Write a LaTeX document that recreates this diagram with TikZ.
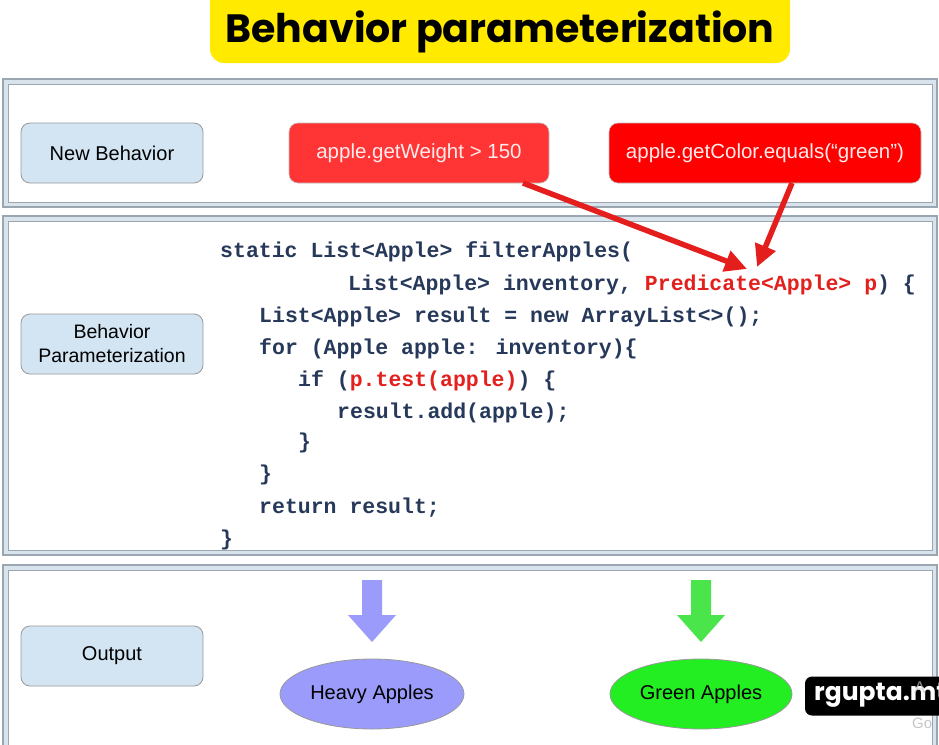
\documentclass[tikz,border=0pt]{standalone}
\usepackage{fontspec}
\setmainfont{Liberation Sans}
\newfontfamily\titlefont{Poppins}[UprightFont=* Bold]
\newfontfamily\codefont{Liberation Mono}[UprightFont=* Bold]
\newfontfamily\wmfont{Poppins}[UprightFont=* Bold]
\usetikzlibrary{shapes.geometric,arrows.meta}
\definecolor{titleyellow}{HTML}{FFEA00}
\definecolor{framegray}{HTML}{9AA6B2}
\definecolor{framefill}{HTML}{D9E3EC}
\definecolor{labelblue}{HTML}{D3E5F3}
\definecolor{redA}{HTML}{FF3535}
\definecolor{redB}{HTML}{FF0000}
\definecolor{codeblue}{HTML}{27395A}
\definecolor{codered}{HTML}{E3201E}
\definecolor{purp}{HTML}{9B9BFB}
\definecolor{grn}{HTML}{4AE54A}
\definecolor{grnE}{HTML}{22EE22}
\tikzset{
  x=1pt,y=-1pt,
  panelouter/.style={draw=framegray,line width=1.2pt,fill=framefill},
  panelinner/.style={draw=framegray,line width=0.8pt,fill=white},
  labelbox/.style={draw=gray!80,line width=0.8pt,fill=labelblue,rounded corners=9pt,
    minimum width=182pt,minimum height=60pt,align=center,font=\fontsize{20}{23}\selectfont,inner sep=0pt},
  redbox/.style={draw=gray!50,line width=0.6pt,rounded corners=9pt,minimum height=60pt,
    text=red!8,font=\fontsize{20.5}{24}\selectfont,inner sep=0pt},
  codeline/.style={anchor=base west,text=codeblue,font=\codefont\fontsize{21.5}{24}\selectfont,inner sep=0pt},
  redarrow/.style={draw=codered!95!red,line width=5.5pt,-{Triangle[length=22pt,width=21pt]}},
  outell/.style={ellipse,draw=gray!80,line width=0.8pt,minimum width=184pt,minimum height=70pt,
    inner sep=0pt,font=\fontsize{20}{23}\selectfont},
}
\begin{document}
\begin{tikzpicture}
\useasboundingbox (0,0) rectangle (939,744);
\begin{scope}
\clip (0,0) rectangle (939,744);
% title
\node[fill=titleyellow,rounded corners=14pt,minimum width=580pt,minimum height=76pt,inner sep=0pt] (titlebg) at (500,25) {};
\node[font=\titlefont\fontsize{39.5}{44}\selectfont] (title) at (500,32) {Behavior parameterization};
% panels
\draw[panelouter] (3,79) rectangle (937,207);
\draw[panelinner] (8,84) rectangle (932,202);
\draw[panelouter] (3,216) rectangle (937,555);
\draw[panelinner] (8,221) rectangle (932,550);
\draw[panelouter] (3,565) rectangle (937,760);
\draw[panelinner] (8,570) rectangle (932,760);
% labels
\node[labelbox] (newb) at (112,153) {New Behavior};
\node[labelbox,font=\fontsize{19.5}{24}\selectfont] (bparam) at (112,344) {Behavior\\Parameterization};
\node[labelbox] (output) at (112,656) {Output};
% red boxes
\node[redbox,fill=redA,minimum width=260pt] (weight) at (419,153) {apple.getWeight > 150};
\node[redbox,fill=redB,minimum width=312pt] (color) at (765,153) {apple.getColor.equals(“green”)};
% code
\node[codeline] (c1) at (220,257) {static List<Apple> filterApples(};
\node[codeline] (c2) at (348,290) {List<Apple> inventory, \textcolor{codered}{Predicate<Apple> p}) \{};
\node[codeline] (c3) at (259,322) {List<Apple> result = new ArrayList<>();};
\node[codeline] (c4) at (259,354) {for (Apple apple: inventory)\{};
\node[codeline] (c5) at (298,386) {if (\textcolor{codered}{p.test(apple)}) \{};
\node[codeline] (c6) at (337,418) {result.add(apple);};
\node[codeline] (c7) at (298,448) {\}};
\node[codeline] (c8) at (259,480) {\}};
\node[codeline] (c9) at (259,513) {return result;};
\node[codeline] (c10) at (220,545) {\}};
% arrows to Predicate
\coordinate (t1) at (747,269);
\coordinate (t2) at (757,267);
\coordinate (s1) at (523,183);
\coordinate (s2) at (792,183);
\draw[redarrow] (s1) -- (t1);
\draw[redarrow] (s2) -- (t2);
% block arrows
\fill[purp] (362,580) -- (382,580) -- (382,615) -- (396,615) -- (372,642) -- (348,615) -- (362,615) -- cycle;
\fill[grn] (691,580) -- (711,580) -- (711,615) -- (725,615) -- (701,642) -- (677,615) -- (691,615) -- cycle;
% ellipses
\node[outell,fill=purp] (heavy) at (372,694) {Heavy Apples};
\node[outell,fill=grnE,minimum width=182pt] (green) at (701,694) {Green Apples};
% watermark
\node[fill=black,rounded corners=7pt,minimum height=39pt,minimum width=160pt,inner sep=0pt] (wmbg) at (885,696) {};
\node[anchor=west,text=white,font=\wmfont\fontsize{25}{28}\selectfont,inner sep=0pt] (wm) at (814,695) {rgupta.mt};
\node[anchor=west,text=gray!45,opacity=0.7,font=\fontsize{17}{20}\selectfont,inner sep=0pt] (actA) at (914,688) {A};
\node[anchor=west,text=gray!45,font=\fontsize{15}{18}\selectfont,inner sep=0pt] (actG) at (912,723) {Go};
\end{scope}
\end{tikzpicture}
\end{document}
